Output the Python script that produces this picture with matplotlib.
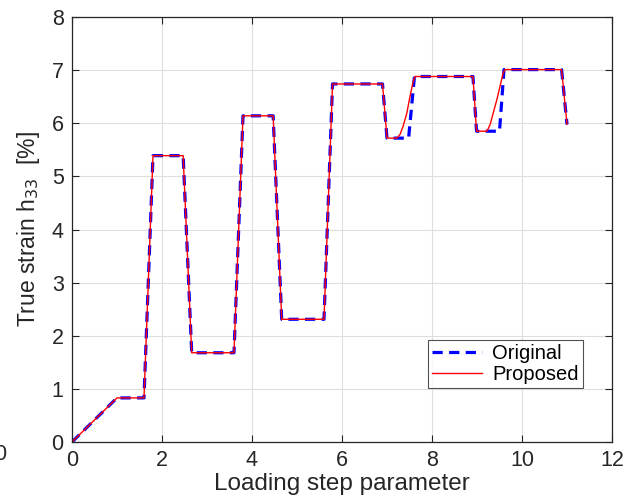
import numpy as np
import matplotlib
matplotlib.use("Agg")
import matplotlib.pyplot as plt

plt.rcParams['font.family'] = ['Liberation Sans', 'DejaVu Sans']

# Original loading path
orig_x = [0, 1.0, 1.6, 1.8, 2.47, 2.66, 3.6, 3.8, 4.47, 4.66, 5.6, 5.79,
          6.9, 7.0, 7.48, 7.61, 8.91, 8.99, 9.5, 9.6, 10.88, 11.0]
orig_y = [0, 0.83, 0.83, 5.39, 5.39, 1.68, 1.68, 6.14, 6.14, 2.31, 2.31, 6.74,
          6.74, 5.72, 5.72, 6.88, 6.88, 5.85, 5.85, 7.01, 7.01, 5.98]

# Proposed path: same except smooth recovery after the two last unloadings
prop_x = [0, 1.0, 1.6, 1.8, 2.47, 2.66, 3.6, 3.8, 4.47, 4.66, 5.6, 5.79,
          6.9, 7.0, 7.22, 7.29, 7.36, 7.44, 7.51, 7.58, 7.62,
          8.91, 8.99, 9.22, 9.29, 9.36, 9.44, 9.51, 9.58, 9.62, 10.88, 11.0]
prop_y = [0, 0.83, 0.83, 5.39, 5.39, 1.68, 1.68, 6.14, 6.14, 2.31, 2.31, 6.74,
          6.74, 5.72, 5.72, 5.79, 5.95, 6.19, 6.50, 6.78, 6.88,
          6.88, 5.85, 5.85, 5.97, 6.19, 6.44, 6.69, 6.94, 7.01, 7.01, 5.98]

fig = plt.figure(figsize=(6.36, 5.0), dpi=100)
ax = fig.add_axes([72 / 636, 1 - 442 / 500, 540 / 636, 425 / 500])

ax.plot(orig_x, orig_y, color='#0000ff', lw=2.3, ls=(0, (3.2, 2.0)), label='Original')
ax.plot(prop_x, prop_y, color='#ff0000', lw=1.0, label='Proposed')

ax.set_xlim(0, 12)
ax.set_ylim(0, 8)
ax.set_xticks(np.arange(0, 13, 2))
ax.set_yticks(np.arange(0, 9, 1))
ax.grid(True, color='#dedede', lw=0.8)
ax.set_axisbelow(True)
ax.tick_params(direction='in', length=5, width=0.8, top=True, right=True,
               labelsize=15.5, colors='#262626')
ax.tick_params(axis='x', pad=6)
ax.tick_params(axis='y', pad=6)
for s in ax.spines.values():
    s.set_color('#262626')
    s.set_linewidth(0.9)

ax.set_xlabel('Loading step parameter', fontsize=17.5, color='#262626', labelpad=1)
ax.set_ylabel('True strain h$_{33}$  [%]', fontsize=16.5, color='#262626', labelpad=7)

leg = ax.legend(loc='lower right', bbox_to_anchor=(583 / 636, 1 - 388 / 500),
                bbox_transform=fig.transFigure, fontsize=14.5, frameon=True,
                fancybox=False, borderpad=0.2, borderaxespad=0,
                handlelength=2.5, handletextpad=0.5, labelspacing=0.1)
leg.get_frame().set_edgecolor('#262626')
leg.get_frame().set_linewidth(0.8)

# stray tick label from a neighbouring panel, cut at the left edge
fig.text(6 / 636, 1 - 455 / 500, '0', ha='right', va='center', fontsize=15.5,
         color='#262626')

fig.savefig('out.png', dpi=100)
